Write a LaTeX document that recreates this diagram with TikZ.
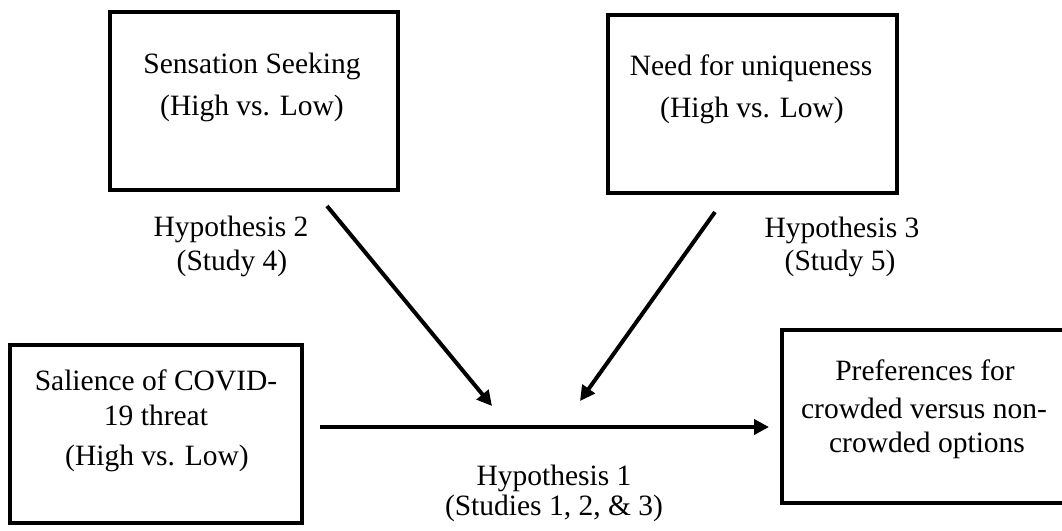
\documentclass[tikz,border=0pt]{standalone}
\usepackage{fontspec}
\setmainfont{Liberation Serif}
\usetikzlibrary{arrows.meta}
\begin{document}
\begin{tikzpicture}[x=1pt,y=-1pt,
  box/.style={draw,line width=4pt,inner sep=0pt,outer sep=0pt},
  txt/.style={font=\fontsize{29.5}{34}\selectfont,inner sep=0pt,anchor=base},
  conn/.style={line width=4pt,-{Triangle[length=15pt,width=15pt]}}]
\useasboundingbox (0,0) rectangle (1062,530);
% boxes
\node[box,minimum width=288pt,minimum height=178pt] (ss) at (254,101) {};
\node[box,minimum width=289pt,minimum height=178pt] (nu) at (752.5,104) {};
\node[box,minimum width=292pt,minimum height=178pt] (sc) at (156,434) {};
\node[box,minimum width=284pt,minimum height=173pt] (pr) at (924,416.5) {};
% box texts
\node[txt] (ss1) at (252,73) {Sensation Seeking};
\node[txt] (ss2) at (252,115) {(High vs. Low)};
\node[txt] (nu1) at (751,75) {Need for uniqueness};
\node[txt] (nu2) at (752,117) {(High vs. Low)};
\node[txt] (sc1) at (156,390) {Salience of COVID-};
\node[txt] (sc2) at (156,425) {19 threat};
\node[txt] (sc3) at (157,465) {(High vs. Low)};
\node[txt] (pr1) at (925,380) {Preferences for};
\node[txt] (pr2) at (924,418) {crowded versus non-};
\node[txt] (pr3) at (927,452) {crowded options};
% hypothesis labels
\node[txt] (h2a) at (231,236) {Hypothesis 2};
\node[txt] (h2b) at (232,270) {(Study 4)};
\node[txt] (h3a) at (842,237) {Hypothesis 3};
\node[txt] (h3b) at (840,270) {(Study 5)};
\node[txt] (h1a) at (554,485) {Hypothesis 1};
\node[txt] (h1b) at (554,515) {(Studies 1, 2, \& 3)};
% connector end points
\coordinate (a1s) at (327,206);
\coordinate (a1e) at (492,406);
\coordinate (a2s) at (715,212);
\coordinate (a2e) at (580,401);
\coordinate (a0s) at (320,427);
\coordinate (a0e) at (769,427);
\draw[conn] (a1s) -- (a1e);
\draw[conn] (a2s) -- (a2e);
\draw[conn] (a0s) -- (a0e);
\end{tikzpicture}
\end{document}
